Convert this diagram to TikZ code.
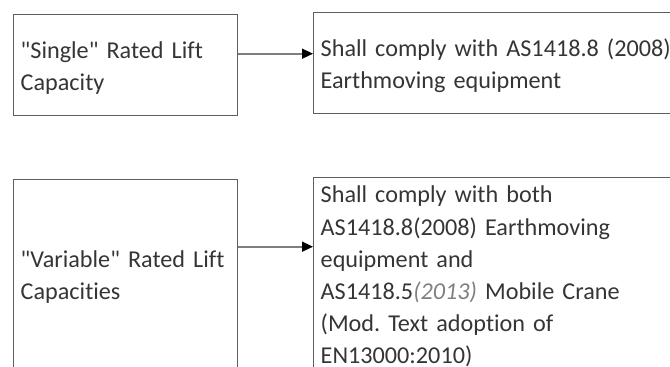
\documentclass[tikz,border=0pt]{standalone}
\usepackage{fontspec}
\setmainfont{Carlito}[Ligatures={TeXOff,CommonOff}]
\usetikzlibrary{arrows.meta}
\frenchspacing
\definecolor{txt}{HTML}{353535}
\definecolor{boxline}{HTML}{5E5E5E}
\tikzset{
  box/.style={draw=boxline, line width=1.4pt, rectangle, inner xsep=7pt, inner ysep=0pt,
    align=left, text=txt, font=\fontsize{24.2}{32.2}\selectfont, anchor=north west},
  conn/.style={draw=boxline!80, line width=1.6pt, -{Triangle[color=black,length=11pt,width=10pt]}}
}
\begin{document}
\begin{tikzpicture}[x=1pt,y=1pt]
\useasboundingbox (0,0) rectangle (670,-367);
\node[box, minimum width=224pt, minimum height=101pt, text width=210pt] (b1) at (13,-14)
  {\rule{0pt}{23pt}"Single" Rated Lift\\Capacity};
\node[box, minimum width=372pt, minimum height=101pt, text width=358pt] (b2) at (313,-12)
  {\rule{0pt}{23pt}Shall comply with AS1418.8 (2008)\\Earthmoving equipment};
\node[box, minimum width=224pt, minimum height=195pt, text width=210pt] (b3) at (13,-179)
  {"Variable" Rated Lift\\Capacities};
\node[box, minimum width=372pt, minimum height=198pt, text width=358pt] (b4) at (313,-177)
  {Shall comply with both\\AS1418.8(2008) Earthmoving\\equipment and\\AS1418.5{\itshape\color{gray}(2013)} Mobile Crane\\(Mod. Text adoption of\\EN13000:2010)};
\draw[conn] ([yshift=11.5pt]b1.east) -- ([yshift=9.5pt]b2.west);
\draw[conn] ([yshift=30.5pt]b3.east) -- ([yshift=30pt]b4.west);
\end{tikzpicture}
\end{document}
